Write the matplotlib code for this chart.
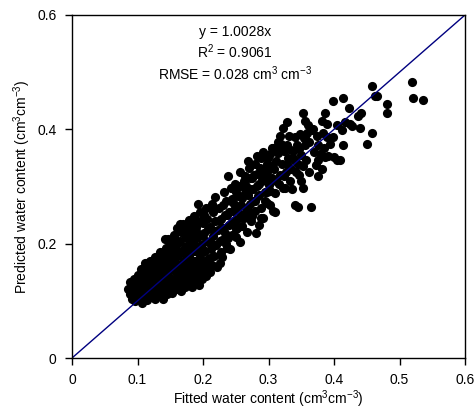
import matplotlib
matplotlib.use("Agg")
import matplotlib.pyplot as plt

plt.rcParams['font.family'] = ['Liberation Sans', 'DejaVu Sans']
plt.rcParams['mathtext.fontset'] = 'custom'
plt.rcParams['mathtext.rm'] = 'Liberation Sans'
plt.rcParams['mathtext.default'] = 'regular'

# (fitted, predicted) pairs, grouped by region of the cloud
core_low = [
    (0.086, 0.121), (0.088, 0.112), (0.089, 0.133), (0.091, 0.104), (0.092, 0.126),
    (0.094, 0.117), (0.095, 0.139), (0.096, 0.099), (0.097, 0.129), (0.099, 0.111),
    (0.100, 0.146), (0.101, 0.121), (0.102, 0.103), (0.104, 0.134), (0.105, 0.156),
    (0.106, 0.115), (0.107, 0.097), (0.108, 0.127), (0.109, 0.143), (0.111, 0.108),
    (0.111, 0.166), (0.112, 0.158), (0.113, 0.120), (0.114, 0.135), (0.115, 0.101),
    (0.116, 0.150), (0.117, 0.114), (0.118, 0.128), (0.118, 0.141), (0.119, 0.170),
    (0.120, 0.106), (0.121, 0.141), (0.122, 0.122), (0.123, 0.157), (0.124, 0.112),
    (0.125, 0.133), (0.125, 0.150), (0.126, 0.177), (0.127, 0.103), (0.128, 0.147),
    (0.128, 0.138), (0.129, 0.119), (0.130, 0.164), (0.131, 0.128), (0.132, 0.108),
    (0.132, 0.165), (0.133, 0.140), (0.134, 0.185), (0.135, 0.153), (0.135, 0.145),
    (0.136, 0.116), (0.137, 0.131), (0.138, 0.170), (0.138, 0.150), (0.139, 0.104),
    (0.140, 0.145), (0.140, 0.165), (0.141, 0.122), (0.142, 0.160), (0.142, 0.209),
    (0.143, 0.193), (0.144, 0.136), (0.145, 0.112), (0.145, 0.170), (0.146, 0.177),
    (0.146, 0.208), (0.147, 0.150), (0.148, 0.127), (0.149, 0.201), (0.149, 0.185),
    (0.110, 0.150), (0.103, 0.125), (0.098, 0.120), (0.093, 0.110), (0.105, 0.140),
    (0.114, 0.124), (0.120, 0.160), (0.126, 0.125), (0.133, 0.175), (0.139, 0.185),
    (0.143, 0.155), (0.147, 0.137), (0.122, 0.132), (0.130, 0.150), (0.137, 0.160),
    (0.144, 0.123), (0.116, 0.108), (0.128, 0.112), (0.141, 0.113), (0.112, 0.142),
]

core_high = [
    (0.150, 0.163), (0.150, 0.118), (0.150, 0.140), (0.151, 0.139), (0.152, 0.185),
    (0.153, 0.113), (0.154, 0.171), (0.155, 0.128), (0.155, 0.190), (0.155, 0.215),
    (0.156, 0.212), (0.157, 0.153), (0.158, 0.196), (0.158, 0.165), (0.159, 0.120),
    (0.160, 0.142), (0.160, 0.200), (0.161, 0.228), (0.162, 0.178), (0.162, 0.150),
    (0.163, 0.131), (0.164, 0.162), (0.165, 0.205), (0.165, 0.185), (0.165, 0.235),
    (0.166, 0.117), (0.167, 0.147), (0.168, 0.188), (0.168, 0.165), (0.169, 0.234),
    (0.170, 0.136), (0.170, 0.185), (0.171, 0.170), (0.172, 0.125), (0.172, 0.145),
    (0.173, 0.216), (0.174, 0.155), (0.175, 0.196), (0.175, 0.175), (0.176, 0.143),
    (0.177, 0.131), (0.178, 0.242), (0.178, 0.200), (0.179, 0.178), (0.180, 0.161),
    (0.180, 0.215), (0.181, 0.224), (0.182, 0.139), (0.182, 0.185), (0.183, 0.124),
    (0.184, 0.205), (0.185, 0.170), (0.185, 0.150), (0.187, 0.249), (0.188, 0.188),
    (0.188, 0.170), (0.189, 0.135), (0.190, 0.229), (0.190, 0.210), (0.191, 0.160),
    (0.192, 0.269), (0.192, 0.195), (0.193, 0.212), (0.194, 0.145), (0.195, 0.180),
    (0.195, 0.160), (0.196, 0.255), (0.197, 0.198), (0.198, 0.138), (0.198, 0.215),
    (0.199, 0.168), (0.200, 0.236), (0.201, 0.152), (0.202, 0.218), (0.203, 0.187),
    (0.203, 0.170), (0.204, 0.144), (0.205, 0.262), (0.206, 0.244), (0.207, 0.173),
    (0.208, 0.203), (0.209, 0.158), (0.210, 0.150), (0.211, 0.230), (0.212, 0.190),
    (0.213, 0.270), (0.214, 0.163), (0.215, 0.255), (0.216, 0.213), (0.217, 0.178),
    (0.218, 0.281), (0.219, 0.240), (0.220, 0.197), (0.188, 0.241), (0.153, 0.200),
    (0.157, 0.135), (0.161, 0.188), (0.164, 0.140), (0.167, 0.220), (0.170, 0.158),
    (0.173, 0.195), (0.176, 0.228), (0.179, 0.148), (0.183, 0.232), (0.186, 0.196),
    (0.189, 0.222), (0.193, 0.172), (0.196, 0.240), (0.199, 0.190), (0.202, 0.250),
    (0.205, 0.205), (0.208, 0.225), (0.211, 0.175), (0.214, 0.200), (0.217, 0.262),
    (0.219, 0.222), (0.204, 0.160), (0.185, 0.138), (0.176, 0.210), (0.194, 0.128),
]

middle = [
    (0.222, 0.160), (0.223, 0.224), (0.224, 0.262), (0.226, 0.166), (0.227, 0.186),
    (0.228, 0.243), (0.229, 0.206), (0.229, 0.176), (0.231, 0.267), (0.232, 0.290),
    (0.233, 0.218), (0.235, 0.199), (0.236, 0.250), (0.237, 0.192), (0.238, 0.319),
    (0.239, 0.232), (0.241, 0.190), (0.242, 0.275), (0.244, 0.279), (0.244, 0.215),
    (0.246, 0.258), (0.248, 0.236), (0.249, 0.305), (0.249, 0.241), (0.251, 0.212),
    (0.252, 0.227), (0.253, 0.283), (0.255, 0.245), (0.256, 0.300), (0.257, 0.203),
    (0.258, 0.268), (0.260, 0.231), (0.262, 0.310), (0.264, 0.288), (0.265, 0.255),
    (0.267, 0.262), (0.267, 0.220), (0.270, 0.333), (0.272, 0.296), (0.273, 0.240),
    (0.275, 0.314), (0.275, 0.248), (0.277, 0.275), (0.279, 0.258), (0.281, 0.218),
    (0.282, 0.354), (0.283, 0.300), (0.284, 0.284), (0.285, 0.232), (0.287, 0.333),
    (0.288, 0.262), (0.290, 0.311), (0.291, 0.245), (0.292, 0.361), (0.294, 0.290),
    (0.295, 0.275), (0.297, 0.340), (0.298, 0.325), (0.298, 0.272), (0.300, 0.302),
    (0.226, 0.205), (0.233, 0.250), (0.240, 0.255), (0.247, 0.270), (0.254, 0.262),
    (0.260, 0.280), (0.266, 0.300), (0.272, 0.270), (0.278, 0.320), (0.285, 0.305),
    (0.291, 0.330), (0.296, 0.310), (0.262, 0.245), (0.250, 0.225), (0.238, 0.210),
    (0.256, 0.325), (0.268, 0.345), (0.280, 0.340), (0.224, 0.240), (0.230, 0.228),
    (0.235, 0.275), (0.243, 0.298), (0.245, 0.238), (0.251, 0.290), (0.258, 0.250),
    (0.261, 0.300), (0.264, 0.318), (0.269, 0.285), (0.271, 0.315), (0.276, 0.295),
    (0.279, 0.275), (0.283, 0.322), (0.286, 0.285), (0.289, 0.350), (0.293, 0.318),
    (0.297, 0.290), (0.299, 0.350), (0.254, 0.230), (0.270, 0.255), (0.288, 0.245),
]

upper = [
    (0.302, 0.293), (0.302, 0.267), (0.303, 0.356), (0.305, 0.367), (0.306, 0.315),
    (0.307, 0.368), (0.307, 0.258), (0.308, 0.330), (0.310, 0.288), (0.310, 0.255),
    (0.312, 0.345), (0.314, 0.378), (0.315, 0.358), (0.316, 0.305), (0.318, 0.388),
    (0.320, 0.340), (0.322, 0.403), (0.322, 0.297), (0.324, 0.362), (0.325, 0.297),
    (0.326, 0.325), (0.328, 0.372), (0.328, 0.412), (0.330, 0.350), (0.332, 0.388),
    (0.334, 0.330), (0.336, 0.295), (0.337, 0.362), (0.340, 0.386), (0.340, 0.267),
    (0.341, 0.345), (0.343, 0.372), (0.345, 0.264), (0.346, 0.320), (0.348, 0.392),
    (0.350, 0.355), (0.352, 0.335), (0.353, 0.428), (0.353, 0.298), (0.355, 0.372),
    (0.356, 0.389), (0.356, 0.415), (0.358, 0.346), (0.359, 0.394), (0.360, 0.407),
    (0.362, 0.325), (0.365, 0.264), (0.366, 0.398), (0.368, 0.401), (0.370, 0.360),
    (0.372, 0.338), (0.374, 0.388), (0.376, 0.372), (0.376, 0.347), (0.376, 0.319),
    (0.379, 0.357), (0.382, 0.415), (0.382, 0.331), (0.383, 0.394), (0.385, 0.368),
    (0.386, 0.428), (0.386, 0.351), (0.389, 0.410), (0.389, 0.386), (0.391, 0.354),
    (0.394, 0.375), (0.398, 0.449), (0.398, 0.386), (0.400, 0.352), (0.317, 0.320),
    (0.333, 0.310), (0.345, 0.340), (0.362, 0.378), (0.350, 0.310), (0.304, 0.335),
    (0.311, 0.310), (0.313, 0.365), (0.319, 0.375), (0.323, 0.318), (0.329, 0.340),
    (0.331, 0.365), (0.338, 0.350), (0.342, 0.325), (0.347, 0.365), (0.354, 0.385),
]

top = [
    (0.405, 0.407), (0.405, 0.346), (0.409, 0.347), (0.412, 0.398), (0.414, 0.455),
    (0.414, 0.372), (0.417, 0.412), (0.423, 0.438), (0.424, 0.410), (0.428, 0.405),
    (0.437, 0.424), (0.440, 0.403), (0.441, 0.428), (0.450, 0.375), (0.458, 0.476),
    (0.458, 0.394), (0.463, 0.459), (0.466, 0.459), (0.481, 0.445), (0.481, 0.428),
    (0.519, 0.482), (0.521, 0.455), (0.536, 0.452),
]

ticks_x = [0, 0.1, 0.2, 0.3, 0.4, 0.5, 0.6]
ticks_y = [0, 0.2, 0.4, 0.6]
stats_text = "y = 1.0028x\nR$^{2}$ = 0.9061\nRMSE = 0.028 cm$^{3}$ cm$^{-3}$"

fig = plt.figure(figsize=(4.76, 4.11), dpi=100)
ax = fig.add_axes([72 / 476, 53 / 411, 393 / 476, 343 / 411])

for group in (core_low, core_high, middle, upper, top):
    xs, ys = zip(*group)
    ax.plot(xs, ys, 'o', color='black', markersize=6.6, markeredgewidth=0)

# 1:1 line
ax.plot([0, 0.6], [0, 0.6], color='#000080', linewidth=1)

ax.set_xlim(0, 0.6)
ax.set_ylim(0, 0.6)
ax.set_xticks(ticks_x)
ax.set_xticklabels([f"{t:g}" for t in ticks_x])
ax.set_yticks(ticks_y)
ax.set_yticklabels([f"{t:g}" for t in ticks_y])
ax.tick_params(direction='out', length=5, width=1, labelsize=10, pad=6)
for spine in ax.spines.values():
    spine.set_linewidth(1)

ax.set_xlabel("Fitted water content (cm$^{3}$cm$^{-3}$)", fontsize=10, labelpad=1)
ax.set_ylabel("Predicted water content (cm$^{3}$cm$^{-3}$)", fontsize=10, labelpad=3)

ax.text(0.249, 0.582, stats_text, ha='center', va='top', fontsize=10,
        linespacing=1.2)

fig.savefig("out.png", dpi=100)
